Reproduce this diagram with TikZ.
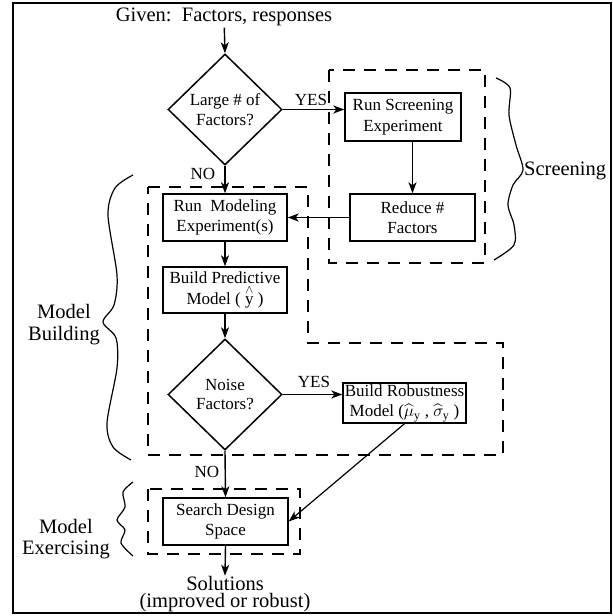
\documentclass[tikz,border=0pt]{standalone}
\usepackage{amsmath}
\usepackage{fontspec}
\setmainfont{Liberation Serif}
\usetikzlibrary{shapes.geometric,arrows.meta}
\newcommand{\yhat}{\ensuremath{\overset{\scriptstyle\wedge}{\mathrm{y}}}}
\begin{document}
\begin{tikzpicture}[x=1pt,y=-1pt,
  box/.style={draw, line width=1.4pt, inner sep=0pt, align=center, font=\fontsize{17}{20.5}\selectfont},
  dec/.style={diamond, draw, line width=1.5pt, inner sep=0pt, aspect=1, minimum width=114pt, minimum height=111pt, align=center, font=\fontsize{17}{19.5}\selectfont},
  lbl/.style={inner sep=0pt, font=\fontsize{17}{20}\selectfont},
  big/.style={inner sep=0pt, align=center, font=\fontsize{20.5}{21.5}\selectfont},
  arr/.style={line width=1.4pt, -{Stealth[length=11pt,width=8pt,inset=3pt]}},
  zone/.style={dash pattern=on 12pt off 9pt, line width=1.6pt},
  brace/.style={line width=1.2pt, line join=round}]

\useasboundingbox (0,0) rectangle (613,616);
\draw[line width=2pt] (13,3) rectangle (611,613);

% dashed zones
\draw[zone] (329,70) rectangle (485,263);
\draw[zone] (148,187) -- (308,187) -- (308,343) -- (503,343) -- (503,455) -- (148,455) -- cycle;
\draw[zone] (148,489) rectangle (300,554);

% nodes
\node[big, anchor=base] (given) at (224,21) {Given:\enspace Factors, responses};
\node[dec] (q1) at (225,109.5) {Large \# of\\Factors?};
\node[box, minimum width=116pt, minimum height=48pt] (rs) at (403,117) {Run Screening\\Experiment};
\node[box, minimum width=125pt, minimum height=47pt] (rd) at (412.5,217.5) {Reduce \#\\Factors};
\node[box, minimum width=124pt, minimum height=47pt] (rm) at (225,217.5) {Run\enspace Modeling\\Experiment(s)};
\node[box, minimum width=124pt, minimum height=46pt] (bp) at (225,290) {Build Predictive\\Model ( \yhat\ )};
\node[dec] (q2) at (225,394.5) {Noise\\Factors?};
\node[box, minimum width=123pt, minimum height=40pt] (br) at (404.5,403) {Build Robustness\\Model ($\widehat{\mu}_{\mathrm{y}}$ , $\widehat{\sigma}_{\mathrm{y}}$ )};
\node[box, minimum width=125pt, minimum height=47pt] (sd) at (225.5,521.5) {Search Design\\Space};
\node[big, font=\fontsize{20.5}{17.5}\selectfont] (sol) at (225,594) {Solutions\\(improved or robust)};

\node[lbl, anchor=base] (y1) at (311,105) {YES};
\node[lbl, anchor=base] (n1) at (203,179) {NO};
\node[lbl, anchor=base] (y2) at (314,387) {YES};
\node[lbl, anchor=base] (n2) at (207,477) {NO};

\node[big, anchor=west] (scr) at (524,171) {Screening};
\node[big, font=\fontsize{20.5}{22}\selectfont] (mb) at (64,325) {Model\\Building};
\node[big, font=\fontsize{20.5}{21}\selectfont] (me) at (66,539) {Model\\Exercising};

% braces
\draw[brace] plot[smooth, tension=0.5] coordinates {(133,175) (115,188) (108,215) (117,275) (114,305) (103,322) (116,338) (117,368) (107,423) (113,447) (131,460)};
\draw[brace] plot[smooth, tension=0.5] coordinates {(496,78) (510,88) (509,115) (516,145) (523,170) (513,185) (508,205) (514,225) (514,245) (494,260)};
\draw[brace] plot[smooth, tension=0.5] coordinates {(133,482) (123,492) (125,507) (117,520) (125,530) (121,543) (133,556)};

% connectors
\draw[arr, shorten <=2pt] (given) -- (q1.north);
\draw[arr] (q1.east) -- (q1.east -| rs.west);
\draw[arr] (q1.south) -- (rm.north);
\draw[arr] (rs.south -| rd.north) -- (rd.north);
\draw[arr] (rd.west) -- (rm.east);
\draw[arr] (rm.south) -- (bp.north);
\draw[arr] (bp.south) -- (q2.north);
\draw[arr] (q2.east) -- (q2.east -| br.west);
\draw[arr] (q2.south) -- (sd.north);
\draw[arr, line width=1.2pt] (br.south) -- (sd.east);
\draw[arr] (sd.south) -- (sol.north);
\end{tikzpicture}
\end{document}
